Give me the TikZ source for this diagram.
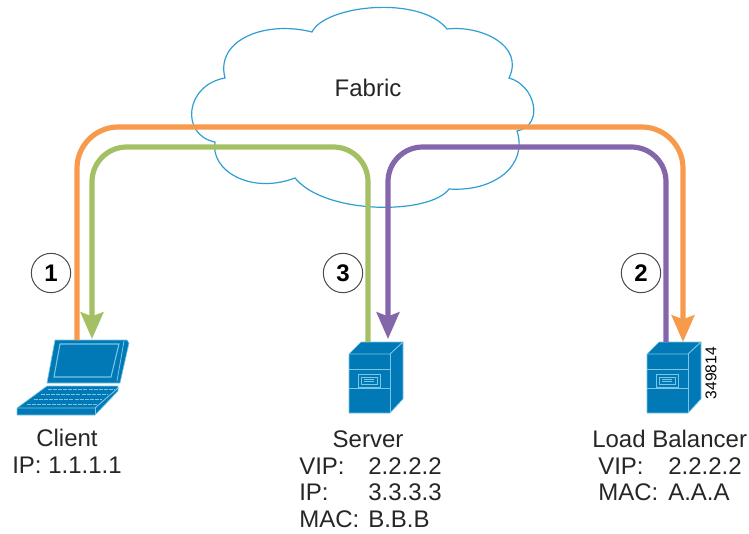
\documentclass[tikz,border=0pt]{standalone}
\usepackage{fontspec}
\setmainfont{Liberation Sans}
\usetikzlibrary{arrows.meta}

\definecolor{iconblue}{HTML}{0079B6}
\definecolor{iconline}{HTML}{7CC6E4}
\definecolor{cloudblue}{HTML}{2F9FD3}
\definecolor{pathorange}{HTML}{F79A4B}
\definecolor{pathgreen}{HTML}{A3C164}
\definecolor{pathpurple}{HTML}{8467AB}
\definecolor{labelgray}{HTML}{262626}

\tikzset{
  orangepath/.style={color=pathorange, line width=3.9pt, rounded corners=31pt},
  greenpath/.style={color=pathgreen, line width=3.9pt, rounded corners=26pt},
  purplepath/.style={color=pathpurple, line width=3.9pt, rounded corners=26pt},
  tiphead/.style={-{Stealth[length=20pt,width=17pt,inset=3pt]}},
  label/.style={color=labelgray, font=\fontsize{18}{20}\selectfont, inner sep=0pt, anchor=base west},
  labelmid/.style={label, anchor=base},
  stepnum/.style={circle, draw=black!70, fill=white, line width=0.75pt, minimum size=29.5pt, inner sep=0pt, font=\fontsize{18}{20}\selectfont\bfseries}
}

% one server box, with its top left front corner as origin
\newcommand{\serverbox}[1]{
\begin{scope}[shift={#1}]
\fill[color=iconblue, draw=iconline, line width=0.5pt] (0,0) -- (12,-12) -- (54,-12) -- (54,45) -- (41,59) -- (0,59) -- cycle;
\draw[color=iconline, line width=0.7pt] (0,0) -- (41,0) -- (54,-12);
\draw[color=iconline, line width=0.7pt] (41,0) -- (41,59);
\draw[color=iconline, line width=0.7pt] (0,15) -- (41,15);
\draw[color=iconline, line width=0.7pt] (0,34) -- (41,34);
\draw[color=iconline, line width=0.7pt] (9,20) rectangle (31,33);
\draw[color=iconline, line width=0.6pt] (12,23) rectangle (28,30);
\draw[color=iconline, line width=0.5pt] (15,25.5) -- (25,25.5);
\draw[color=iconline, line width=0.5pt] (15,27.8) -- (25,27.8);
\end{scope}
}

\begin{document}
\begin{tikzpicture}[x=0.75pt,y=-0.75pt]
\useasboundingbox (0,0) rectangle (749,533);

% fabric cloud
\draw[color=cloudblue, line width=0.9pt, fill=white]
 (312,32) .. controls (325,5) and (420,-5) .. (447,29)
 .. controls (480,25) and (525,45) .. (509,78)
 .. controls (535,85) and (545,125) .. (517,131)
 .. controls (528,165) and (495,192) .. (449,189)
 .. controls (430,215) and (325,215) .. (295,178)
 .. controls (250,195) and (210,170) .. (215,142)
 .. controls (180,135) and (185,85) .. (225,78)
 .. controls (215,40) and (265,20) .. (312,32) -- cycle;
\node[labelmid] (fabric) at (368,96) {Fabric};

% laptop
\fill[color=iconblue, draw=iconline, line width=0.5pt] (55,340) -- (127,340) -- (129,343) -- (120,383) -- (47,383) -- cycle;
\draw[color=iconline, line width=0.8pt] (60,344) -- (119,344) -- (111,377) -- (54,377) -- cycle;
\draw[color=iconline, line width=0.6pt] (124,341) -- (117,381);
\fill[color=iconblue, draw=iconline, line width=0.5pt] (47,386) -- (118,386) -- (118,391) -- (95,415) -- (17,415) -- (17,408) -- cycle;
\draw[color=iconline, line width=0.7pt] (17,408) -- (95,408) -- (118,388);
\draw[color=iconline, line width=0.7pt] (95,408) -- (95,415);
\draw[color=iconline, line width=0.5pt, dash pattern=on 3pt off 0.8pt] (48,389) -- (114,389);
\draw[color=iconline, line width=0.5pt, dash pattern=on 3pt off 0.8pt] (41,394) -- (108,394);
\draw[color=iconline, line width=0.5pt, dash pattern=on 3pt off 0.8pt] (34,399) -- (102,399);
\draw[color=iconline, line width=0.5pt, dash pattern=on 3pt off 0.8pt] (27,404) -- (97,404);

% servers
\serverbox{(349,354)}
\serverbox{(647,354)}

% path ends and corners
\coordinate (clientout) at (77,340);
\coordinate (clientin) at (92,339);
\coordinate (serverout) at (368,342);
\coordinate (serverin) at (388,339);
\coordinate (balancerout) at (666,342);
\coordinate (balancerin) at (683,342);

\draw[orangepath, tiphead] (clientout) -- (77,127) -- (683,127) -- (balancerin);
\draw[purplepath, tiphead] (balancerout) -- (666,147) -- (388,147) -- (serverin);
\draw[greenpath, tiphead] (serverout) -- (368,147) -- (92,147) -- (clientin);

% numbers
\node[stepnum] (one) at (51,273) {1};
\node[stepnum] (three) at (343,273) {3};
\node[stepnum] (two) at (641,273) {2};

% client text
\node[labelmid] (clientname) at (67,446) {Client};
\node[label] (clientip) at (12,473) {IP: 1.1.1.1};

% server text
\node[labelmid] (servername) at (368,447) {Server};
\node[label] (servervipkey) at (299,474) {VIP:};
\node[label] (servervip) at (368,474) {2.2.2.2};
\node[label] (serveripkey) at (299,500) {IP:};
\node[label] (serverip) at (368,500) {3.3.3.3};
\node[label] (servermackey) at (299,527) {MAC:};
\node[label] (servermac) at (368,527) {B.B.B};

% balancer text
\node[label] (balancername) at (592,447) {Load Balancer};
\node[label] (balancervipkey) at (598,474) {VIP:};
\node[label] (balancervip) at (668,474) {2.2.2.2};
\node[label] (balancermackey) at (598,500) {MAC:};
\node[label] (balancermac) at (668,500) {A.A.A};

\node[rotate=90, color=black, inner sep=0pt, font=\fontsize{11.7}{14}\selectfont] (docnum) at (711,373) {349814};
\end{tikzpicture}
\end{document}
